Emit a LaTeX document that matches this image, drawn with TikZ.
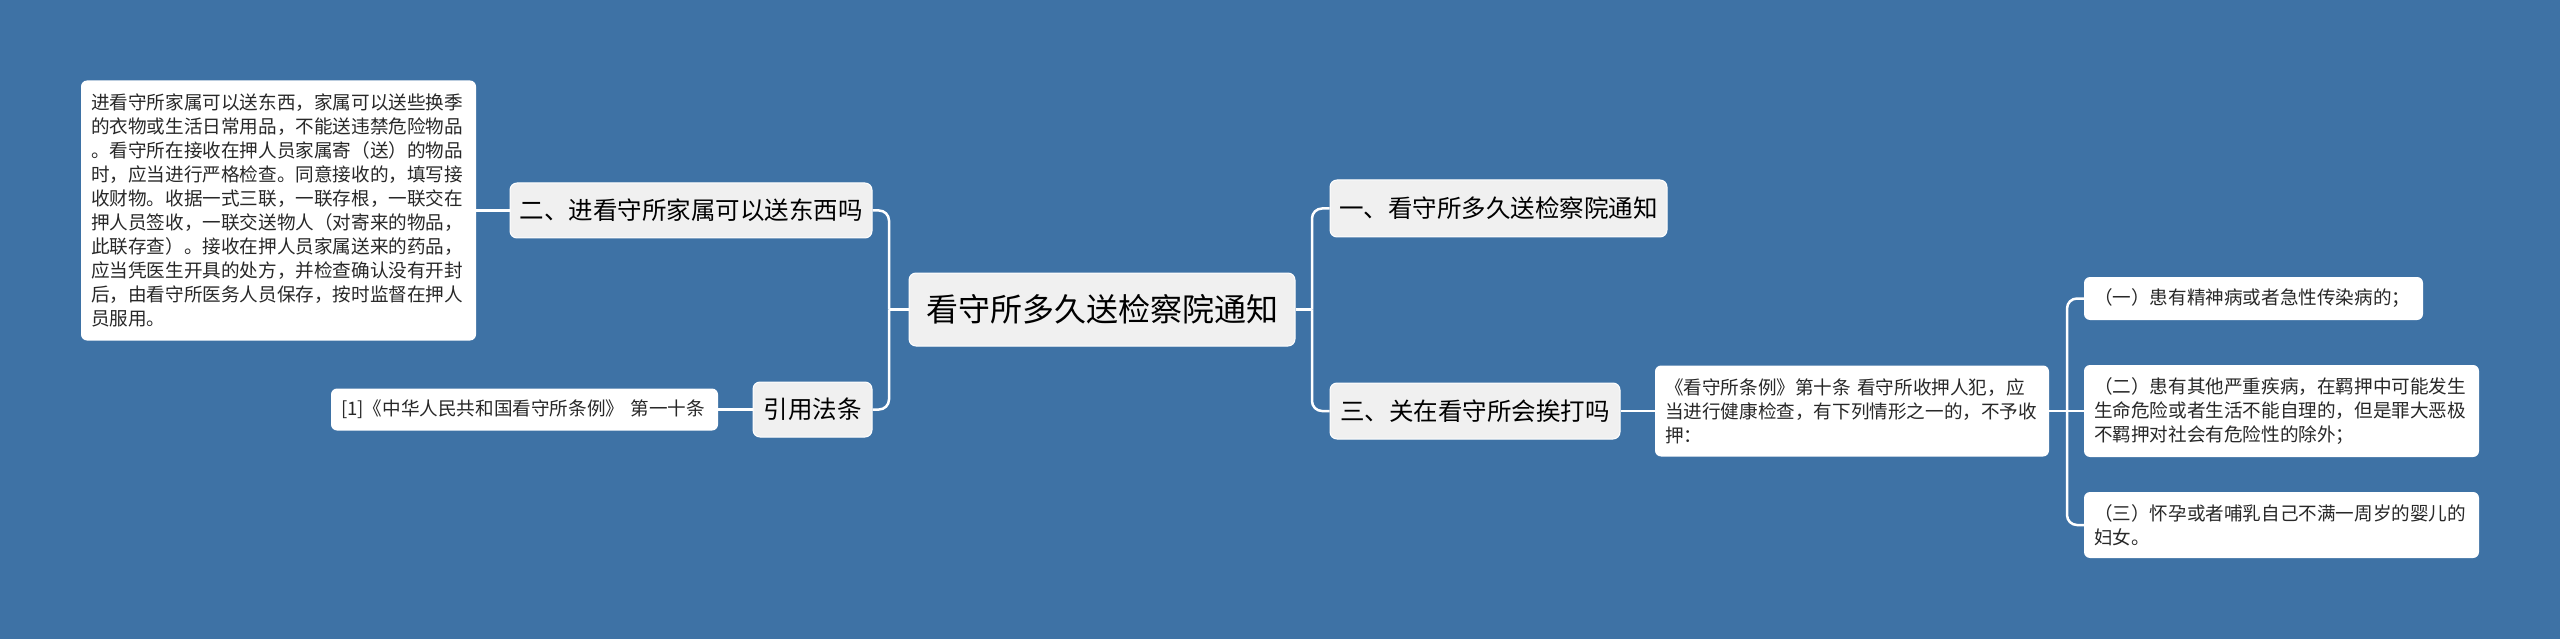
\documentclass[tikz,border=0pt]{standalone}
\usepackage{fontspec}
\setmainfont{Noto Sans CJK SC}
\definecolor{bgblue}{RGB}{62,114,165}
\definecolor{topicgray}{RGB}{240,240,240}
\definecolor{inkgray}{RGB}{40,40,40}
\begin{document}
\begin{tikzpicture}[x=1pt,y=-1pt,
link/.style={draw=white,line width=2.5pt,rounded corners=10pt},
topic/.style={fill=topicgray,draw=white,line width=1pt,rounded corners=7pt,text=black,inner sep=0pt,font=\fontsize{24.5}{30}\selectfont},
leaf/.style={fill=white,rounded corners=6pt,text=inkgray,inner xsep=10pt,inner ysep=0pt,align=left,font=\fontsize{18.6}{24}\selectfont}]
\fill[bgblue] (0,0) rectangle (2560,639);
\node[topic,minimum width=386pt,minimum height=73pt,font=\fontsize{32}{38}\selectfont] (root) at (1102,309.5) {看守所多久送检察院通知};
\node[topic,minimum width=337pt,minimum height=57pt] (b1) at (1498.5,208.5) {一、看守所多久送检察院通知};
\node[topic,minimum width=290pt,minimum height=56pt] (b3) at (1475,411) {三、关在看守所会挨打吗};
\node[topic,minimum width=362pt,minimum height=55pt] (b2) at (691,210.5) {二、进看守所家属可以送东西吗};
\node[topic,minimum width=119pt,minimum height=55pt] (cite) at (812.5,409.5) {引用法条};
\node[leaf,text width=375pt,minimum height=260pt] (leafL) at (278.5,210.5) {进看守所家属可以送东西，家属可以送些换季\\的衣物或生活日常用品，不能送违禁危险物品\\。看守所在接收在押人员家属寄（送）的物品\\时，应当进行严格检查。同意接收的，填写接\\收财物。收据一式三联，一联存根，一联交在\\押人员签收，一联交送物人（对寄来的物品，\\此联存查）。接收在押人员家属送来的药品，\\应当凭医生开具的处方，并检查确认没有开封\\后，由看守所医务人员保存，按时监督在押人\\员服用。};
\node[leaf,text width=367pt,minimum height=42pt] (leafC) at (524.5,409.5) {[1]《中华人民共和国看守所条例》 第一十条};
\node[leaf,text width=374pt,minimum height=91pt] (leafR) at (1852,411) {《看守所条例》第十条 看守所收押人犯，应\\当进行健康检查，有下列情形之一的，不予收\\押：};
\node[leaf,text width=319pt,minimum height=43pt] (r1) at (2253.5,298.5) {（一）患有精神病或者急性传染病的；};
\node[leaf,text width=375pt,minimum height=92pt] (r2) at (2281.5,411) {（二）患有其他严重疾病，在羁押中可能发生\\生命危险或者生活不能自理的，但是罪大恶极\\不羁押对社会有危险性的除外；};
\node[leaf,text width=375pt,minimum height=66pt] (r3) at (2281.5,525) {（三）怀孕或者哺乳自己不满一周岁的婴儿的\\妇女。};
\coordinate (lspine) at (889,309.5);
\coordinate (rspine) at (1312,309.5);
\coordinate (qspine) at (2067,411);
\draw[link] (root.west) -- (lspine);
\foreach \n in {b2,cite}
\draw[link] (lspine) |- (\n.east);
\draw[link] (root.east) -- (rspine);
\foreach \n in {b1,b3}
\draw[link] (rspine) |- (\n.west);
\draw[link] (b2.west) -- (leafL.east);
\draw[link] (cite.west) -- (leafC.east);
\draw[link] (b3.east) -- (leafR.west);
\draw[link] (leafR.east) -- (qspine) -- (r2.west);
\foreach \n in {r1,r3}
\draw[link] (qspine) |- (\n.west);
\end{tikzpicture}
\end{document}
